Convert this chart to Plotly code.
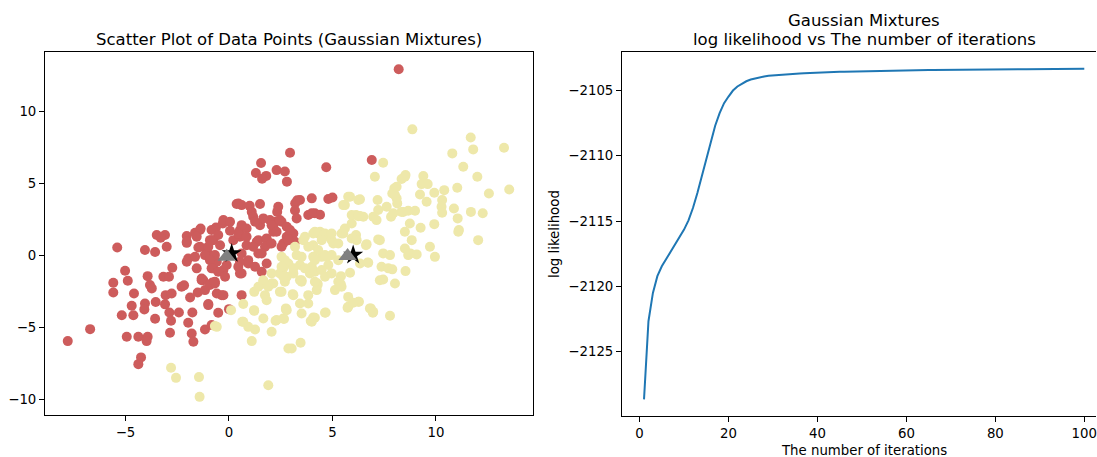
import plotly.graph_objects as go

# ---------------- data ----------------
red_points = [
    (8.2, 12.9), (2.95, 7.1), (1.55, 6.4), (4.7, 6.1), (6.9, 6.6), (1.3, 5.7), (1.8, 5.5),
    (2.3, 5.9), (2.7, 5.8), (1.6, 5.3), (2.8, 5.1), (0.37, 3.55), (0.61, 3.47), (1.0, 3.42),
    (1.5, 3.55), (2.38, 3.35), (3.3, 3.8), (4.0, 3.94), (4.8, 3.9), (5.0, 4.0), (3.2, 3.6),
    (1.1, 3.0), (1.17, 2.66), (2.33, 3.0), (2.54, 2.31), (2.22, 2.31), (2.14, 1.97), (3.19, 3.1),
    (4.15, 2.9), (4.4, 2.8), (3.83, 2.78), (4.0, 2.9), (-3.49, 1.39), (-3.09, 1.39), (-3.3, 1.2),
    (-4.06, 0.35), (-3.57, 0.21), (-3.01, 0.58), (-5.4, 0.53), (-2.04, 1.32), (-1.64, 1.55),
    (-1.4, 1.74), (-0.63, 1.92), (-0.3, 2.2), (0.05, 1.69), (0.53, 1.74), (0.85, 1.85), (1.5, 2.08),
    (1.98, 2.43), (2.14, 1.62), (-2.04, 0.85), (-1.37, 1.85), (-0.76, 1.04), (-1.48, 0.53),
    (-1.08, 0.46), (-1.97, -0.23), (-1.64, -0.12), (-0.92, 0.0), (-2.74, -0.88), (-1.56, -0.92),
    (-5.02, -1.09), (-5.59, -1.92), (-4.89, -1.78), (-3.93, -1.46), (-3.82, -2.08), (-3.17, -1.5),
    (-2.9, -1.5), (-2.29, -2.2), (-2.17, -2.1), (-1.32, -1.74), (-0.84, -1.97), (-5.59, -2.59),
    (-4.59, -2.66), (-3.73, -2.31), (-3.54, -3.26), (-4.06, -3.36), (-4.09, -3.77), (-4.7, -3.52),
    (-5.18, -4.17), (-4.62, -4.17), (-3.57, -4.42), (-3.09, -3.42), (-3.06, -2.78), (-2.77, -2.66),
    (-2.88, -3.98), (-2.8, -4.56), (-2.42, -3.98), (-1.88, -2.94), (-1.77, -3.98), (-1.97, -4.7),
    (-1.8, -5.44), (-1.72, -6.02), (-2.85, -5.39), (-1.51, -2.59), (-1.16, -2.43), (-1.0, -3.4),
    (-0.8, -1.9), (-1.16, -5.16), (-0.84, -4.86), (-6.71, -5.14), (-7.79, -5.97), (-4.94, -5.67),
    (-4.38, -5.67), (-3.93, -5.67), (-3.98, -5.97), (-4.25, -7.1), (-4.38, -7.57), (-0.35, -2.78),
    (-0.52, -4.0), (-1.0, -3.47), (-1.24, -1.74), (-0.92, -2.08), (-0.68, -1.97), (0.61, -2.78),
    (0.53, -1.27), (0.93, -0.58), (1.58, -1.16), (1.42, 0.12), (1.98, 0.81), (1.82, -0.58),
    (-2.04, -0.46), (-1.32, -1.62), (-0.76, -0.92), (-0.59, -0.46), (-0.27, -1.04), (-0.11, -0.69),
    (-0.84, -0.12), (-1.16, 0.0), (-1.4, 0.58), (-0.92, 1.04), (-0.43, 0.69), (0.21, 1.04),
    (0.53, 1.27), (0.85, 0.69), (1.34, 0.92), (0.53, -0.46), (-1.56, 1.27), (-2.04, 0.92),
    (-0.59, -2.66), (-0.27, -2.78), (0.0, -3.75), (2.79, 1.27), (3.11, 1.5), (2.62, 0.81),
    (3.19, 0.92), (0.45, 3.59), (3.43, 3.82), (-0.27, 2.43), (0.05, 2.31), (0.61, 2.08),
    (1.26, 2.31), (1.66, 2.55), (2.06, 2.08), (2.46, 2.43), (2.79, 1.97), (3.27, 2.55),
    (-0.84, 1.74), (-0.52, 1.39), (-0.84, 1.04), (0.45, 1.5), (0.85, 1.27), (1.42, 1.04),
    (1.82, 1.16), (2.3, 1.62), (2.95, 1.74), (1.17, 0.58), (1.74, 0.58), (2.06, 0.81),
    (2.54, 0.58), (2.87, 1.04), (-1.0, 0.58), (-0.68, 0.0), (0.61, 0.12), (0.93, -0.35),
    (1.58, 0.12), (-0.92, -0.35), (-0.84, -0.92), (-0.52, -1.16), (0.45, -0.81), (1.26, -0.81),
    (-0.68, -1.85), (-0.19, -1.5), (0.61, -1.27),
]

yellow_points = [
    (8.86, 8.73), (11.68, 8.17), (11.8, 7.34), (13.29, 7.45), (10.79, 7.06), (7.45, 6.41),
    (11.32, 6.13), (12.0, 5.44), (13.54, 4.56), (12.56, 4.28), (7.05, 5.44), (8.34, 5.28),
    (8.53, 5.56), (9.39, 5.49), (9.31, 4.93), (9.6, 4.93), (9.92, 4.33), (10.4, 4.51),
    (10.3, 3.82), (10.27, 3.36), (10.3, 2.94), (11.03, 4.68), (10.87, 3.24), (11.05, 2.55),
    (11.69, 3.0), (12.26, 2.9), (11.11, 1.74), (12.04, 1.04), (9.23, 4.21), (9.55, 3.7),
    (9.92, 2.15), (9.26, 1.9), (9.71, 0.58), (7.99, 4.63), (7.89, 4.28), (8.1, 3.94),
    (8.13, 3.59), (7.18, 3.82), (6.33, 3.87), (7.62, 3.36), (7.21, 3.13), (6.97, 2.66),
    (7.13, 2.43), (7.83, 2.66), (8.42, 3.0), (8.66, 3.08), (8.99, 3.08), (8.74, 2.2),
    (8.5, 1.62), (8.83, 1.04), (9.95, -0.12), (8.5, 0.46), (8.76, 0.12), (9.07, 0.05),
    (7.45, 0.12), (7.78, 0.0), (7.21, 1.09), (6.65, 0.76), (6.73, -0.53), (7.37, -0.81),
    (7.7, -0.92), (8.53, -1.11), (8.02, -1.97), (7.29, -1.74), (7.45, -1.69), (6.33, 2.71),
    (5.85, 4.05), (5.6, 3.47), (6.14, 2.78), (6.49, 2.66), (5.52, 1.5), (7.94, 2.9),
    (8.02, 4.17), (8.1, 4.74), (8.5, 5.44), (8.34, 3.0), (7.89, -0.99), (7.78, -4.21),
    (6.97, -3.94), (6.81, -3.7), (6.7, -0.51), (7.29, 1.04), (6.62, 0.69), (6.28, -3.24),
    (5.76, -2.9), (5.73, -3.66), (5.85, -1.23), (5.41, -1.46), (5.12, -2.43), (6.33, -0.58),
    (5.93, 1.16), (6.14, 1.39), (5.04, 0.81), (4.72, -0.12), (4.8, -0.69), (4.48, -0.12),
    (4.64, -4.0), (4.07, -4.33), (3.95, -4.58), (3.46, -6.09), (3.03, -6.48), (4.24, -2.43),
    (4.28, -1.97), (3.91, -1.27), (3.43, -1.74), (3.11, -1.27), (2.79, -1.5), (2.54, -2.55),
    (3.11, -2.78), (2.75, -3.7), (2.62, -4.4), (3.51, -4.05), (4.07, -0.12), (4.0, -0.81),
    (3.43, -0.69), (3.27, 0.0), (2.87, -0.58), (2.62, -0.92), (3.59, 1.04), (4.07, 0.69),
    (4.31, 1.5), (4.56, 1.27), (4.96, 1.04), (5.44, 1.5), (4.07, 1.5), (4.4, 1.62), (4.64, 1.5),
    (1.22, -2.55), (1.74, -2.78), (2.46, -2.55), (3.08, -2.71), (3.83, -2.78), (3.43, -3.36),
    (3.83, -3.36), (2.75, -3.77), (4.15, -4.35), (4.0, -4.63), (4.67, -3.98), (1.66, -4.4),
    (2.25, -4.56), (2.66, -4.44), (2.06, -5.32), (1.1, -5.97), (1.26, -5.16), (0.69, -4.63),
    (0.69, -3.4), (1.22, -3.87), (0.1, -3.82), (-0.59, -4.98), (1.9, -9.03), (1.74, -2.01),
    (2.06, -1.97), (2.7, -1.85), (3.51, -1.85), (4.28, -2.08), (5.44, -2.2), (5.76, -3.59),
    (6.25, -3.24), (6.0, -3.3), (6.85, -3.7), (6.95, -4.0), (-2.8, -7.82), (-2.56, -8.52),
    (-1.45, -8.47), (-1.42, -9.84), (-0.68, -4.93), (0.93, -4.98), (1.21, -3.82), (0.64, -4.63),
    (1.82, -3.13), (2.3, -4.51), (2.79, -3.82), (1.66, -1.85), (2.14, -1.97), (2.46, -1.27),
    (2.87, -6.48), (11.08, 1.62), (8.66, 0.0), (3.67, 1.27), (4.15, 1.62), (4.48, 1.04),
    (4.96, 1.5), (5.6, 1.85), (5.93, 2.2), (5.28, 0.81), (6.17, 1.04), (5.76, 4.05), (6.25, 3.82),
    (5.52, 3.47), (5.93, 2.78), (6.25, 2.7), (3.19, 0.58), (3.83, 0.58), (4.31, 0.35),
    (3.51, -0.12), (4.15, -0.35), (4.64, 0.0), (4.96, 0.0), (2.7, -0.35), (2.54, -0.81),
    (3.11, -0.92), (3.67, -0.92), (4.15, -1.16), (4.48, -1.04), (4.64, -1.5), (2.06, -1.27),
    (2.62, -1.5), (1.66, -1.74), (1.9, -2.2), (1.42, -2.2), (3.51, -1.74), (4.15, -1.85),
    (4.96, -1.27), (5.28, -0.35), (5.28, -1.85), (5.4, -2.0), (2.54, -0.12),
]

star_x = [0.13, 6.0]
star_y = [0.12, 0.0]
tri_x = [-0.11, 5.73]
tri_y = [-0.12, -0.07]

iterations = list(range(1, 101))
log_likelihood = [
    -2128.67, -2122.68, -2120.51, -2119.23, -2118.47, -2117.90, -2117.37, -2116.86, -2116.30, -2115.66,
    -2114.95, -2114.00, -2112.86, -2111.58, -2110.31, -2108.90, -2107.70, -2106.73, -2105.97, -2105.46,
    -2105.00, -2104.69, -2104.46, -2104.29, -2104.16, -2104.06, -2103.98, -2103.92, -2103.86, -2103.83,
    -2103.80, -2103.78, -2103.76, -2103.74, -2103.72, -2103.70, -2103.68, -2103.66, -2103.64, -2103.62,
    -2103.61, -2103.60, -2103.59, -2103.58, -2103.57, -2103.56, -2103.55, -2103.54, -2103.53, -2103.52,
    -2103.51, -2103.50, -2103.49, -2103.48, -2103.48, -2103.47, -2103.46, -2103.45, -2103.45, -2103.44,
    -2103.44, -2103.43, -2103.43, -2103.43, -2103.42, -2103.42, -2103.42, -2103.41, -2103.41, -2103.41,
    -2103.40, -2103.40, -2103.40, -2103.39, -2103.39, -2103.39, -2103.39, -2103.38, -2103.38, -2103.38,
    -2103.38, -2103.37, -2103.37, -2103.37, -2103.37, -2103.37, -2103.36, -2103.36, -2103.36, -2103.36,
    -2103.36, -2103.35, -2103.35, -2103.35, -2103.35, -2103.35, -2103.34, -2103.34, -2103.34, -2103.34,
]

# ---------------- figure ----------------
W, H = 1097, 457
FONT = "DejaVu Sans"
TICK_SIZE = 13.3
TITLE_SIZE = 16.5

fig = go.Figure()

fig.add_trace(go.Scatter(
    x=[p[0] for p in red_points], y=[p[1] for p in red_points], mode="markers",
    marker=dict(color="#cd5c5c", size=10, line=dict(width=0)), xaxis="x", yaxis="y", showlegend=False))
fig.add_trace(go.Scatter(
    x=[p[0] for p in yellow_points], y=[p[1] for p in yellow_points], mode="markers",
    marker=dict(color="#eee8aa", size=10, line=dict(width=0)), xaxis="x", yaxis="y", showlegend=False))
fig.add_trace(go.Scatter(
    x=star_x, y=star_y, mode="markers",
    marker=dict(color="black", symbol="star", size=15, line=dict(width=0)),
    xaxis="x", yaxis="y", showlegend=False))
fig.add_trace(go.Scatter(
    x=tri_x, y=tri_y, mode="markers",
    marker=dict(color="gray", symbol="triangle-up", size=16, line=dict(width=0)),
    xaxis="x", yaxis="y", showlegend=False))

fig.add_trace(go.Scatter(
    x=iterations, y=log_likelihood, mode="lines",
    line=dict(color="#1f77b4", width=2), xaxis="x2", yaxis="y2", showlegend=False))

axis_common = dict(showgrid=False, zeroline=False, showline=True, linecolor="black", linewidth=1,
                   ticks="outside", ticklen=5, tickwidth=1, tickcolor="black",
                   tickfont=dict(family=FONT, size=TICK_SIZE, color="black"))

def px_x(p):
    return p / W

def px_y(p):
    return (H - p) / H

fig.update_layout(
    width=W, height=H,
    margin=dict(l=0, r=0, t=0, b=0),
    paper_bgcolor="white", plot_bgcolor="white",
    font=dict(family=FONT, color="black"),
    hovermode=False,
    xaxis=dict(domain=[px_x(45), px_x(533)], range=[-8.89, 14.69], tickvals=[-5, 0, 5, 10],
               ticktext=["\u22125", "0", "5", "10"], mirror=True, anchor="y", **axis_common),
    yaxis=dict(domain=[px_y(415), px_y(52)], range=[-11.1, 14.1], tickvals=[-10, -5, 0, 5, 10],
               ticktext=["\u221210", "\u22125", "0", "5", "10"], mirror=True, anchor="x", **axis_common),
    xaxis2=dict(domain=[px_x(622), px_x(1096)], range=[-3.95, 102.63],
                tickvals=[0, 20, 40, 60, 80, 100], mirror=True, anchor="y2", **axis_common),
    yaxis2=dict(domain=[px_y(415.7), px_y(52.3)], range=[-2129.92, -2102.07],
                tickvals=[-2125, -2120, -2115, -2110, -2105],
                ticktext=["\u22122125", "\u22122120", "\u22122115", "\u22122110", "\u22122105"],
                mirror=False, anchor="x2", **axis_common),
)

def label(text, x, y, size, angle=0):
    fig.add_annotation(text=text, x=px_x(x), y=px_y(y), xref="paper", yref="paper",
                       xanchor="center", yanchor="middle", showarrow=False, textangle=angle,
                       font=dict(family=FONT, size=size, color="black"))

label("Scatter Plot of Data Points (Gaussian Mixtures)", 289, 39, TITLE_SIZE)
label("Gaussian Mixtures", 864, 20, TITLE_SIZE)
label("log likelihood vs The number of iterations", 864, 39.5, TITLE_SIZE)
label("log likelihood", 554, 234, TICK_SIZE, angle=-90)
label("The number of iterations", 864, 450, TICK_SIZE)

fig.write_html(
    "out.html",
    config={"displayModeBar": False, "staticPlot": True},
    post_script="document.body.style.margin='0';document.body.style.overflow='hidden';",
)
